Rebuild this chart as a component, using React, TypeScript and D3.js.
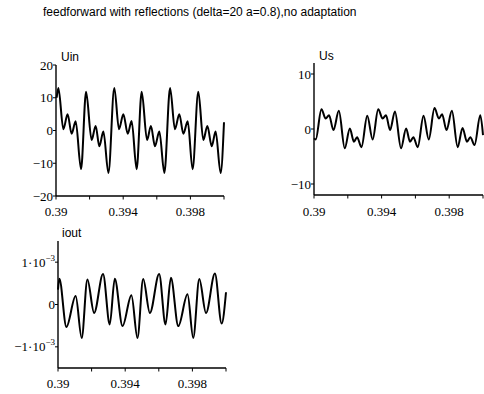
import * as d3 from 'd3';
import React from 'react';

const TITLE = 'feedforward with reflections (delta=20 a=0.8),no adaptation';

// time axis (shared)
const X_DOMAIN = [0.39, 0.4];
const X_LABELS = [0.39, 0.394, 0.398];
const X_TICKS = [0.39, 0.392, 0.394, 0.396, 0.398, 0.4];

// Uin at its turning points
const UIN_T = [0.39004, 0.39014, 0.39044, 0.39069, 0.39093, 0.39117, 0.39149, 0.39179, 0.39212, 0.39236, 0.39258, 0.39282, 0.39312, 0.39347, 0.39375, 0.39401, 0.39427, 0.3945, 0.3948, 0.3951, 0.39542, 0.39565, 0.39589, 0.39615, 0.39645, 0.39679, 0.39708, 0.39734, 0.39758, 0.39784, 0.39813, 0.39847, 0.39877, 0.39901, 0.39927, 0.3995, 0.3998, 0.4];
const UIN_V = [10, 13, 0.4, 5, -1, 2.8, -11.8, 11.8, -2.9, 1.4, -4.8, -0.3, -13, 13, 0.4, 5, -1, 2.9, -11.8, 11.8, -2.9, 1.4, -4.8, -0.3, -13, 13, 0.4, 5, -1, 2.8, -11.8, 11.8, -2.9, 1.4, -4.8, -0.3, -13, 2.5];

// Us
const US_T = [0.39, 0.3901, 0.39044, 0.39069, 0.39089, 0.39115, 0.39147, 0.39182, 0.39212, 0.39236, 0.39255, 0.39281, 0.39315, 0.39347, 0.3938, 0.39406, 0.39426, 0.3945, 0.39479, 0.39515, 0.39545, 0.39568, 0.39588, 0.39614, 0.39648, 0.39679, 0.39713, 0.39739, 0.39758, 0.39784, 0.39816, 0.3985, 0.39879, 0.39905, 0.39925, 0.3995, 0.39984, 0.4];
const US_V = [-1.7, -1.9, 3.6, 1.9, 2.5, -0.2, 3.3, -3.5, 0.1, -2.3, -1.5, -3.3, 2.4, -1.9, 3.6, 1.9, 2.5, -0.2, 3.2, -3.5, 0.1, -2.3, -1.5, -3.3, 2.4, -1.9, 3.8, 1.9, 2.7, -0.2, 3.3, -3.3, 0.2, -2.3, -1.5, -2.9, 2.5, -1.1];

// iout
const IOUT_T = [0.39, 0.39008, 0.3905, 0.39105, 0.39141, 0.39175, 0.39215, 0.39268, 0.39308, 0.39338, 0.39384, 0.39437, 0.39473, 0.39507, 0.39547, 0.39602, 0.3964, 0.39672, 0.39716, 0.39771, 0.39805, 0.39841, 0.39881, 0.39934, 0.39974, 0.4];
const IOUT_V = [0.35e-3, 0.61e-3, -0.53e-3, 0.2e-3, -0.79e-3, 0.59e-3, -0.2e-3, 0.72e-3, -0.47e-3, 0.61e-3, -0.51e-3, 0.22e-3, -0.79e-3, 0.6e-3, -0.2e-3, 0.72e-3, -0.47e-3, 0.63e-3, -0.51e-3, 0.24e-3, -0.79e-3, 0.6e-3, -0.2e-3, 0.73e-3, -0.45e-3, 0.29e-3];

const SERIF = '"Liberation Serif", "DejaVu Serif", serif';
const SANS = '"Liberation Sans", Arial, sans-serif';

type Tick = { value: number; label: React.ReactNode };

function Panel(props: {
  left: number; right: number; top: number; bottom: number;
  yDomain: [number, number]; t: number[]; v: number[]; yTicks: Tick[];
  name: string; nameX: number; nameY: number; labelY: number;
}) {
  const { left, right, top, bottom, yDomain, t, v, yTicks, name, nameX, nameY, labelY } = props;
  const x = d3.scaleLinear().domain(X_DOMAIN).range([left, right]);
  const y = d3.scaleLinear().domain(yDomain).range([bottom, top]);
  const line = d3.line<number>().x((_, i) => x(t[i])).y((d) => y(d)).curve(d3.curveMonotoneX);
  return (
    <g>
      <line x1={left} x2={left} y1={top} y2={bottom} stroke="#000" strokeWidth={1.4} />
      <line x1={left} x2={right} y1={bottom} y2={bottom} stroke="#000" strokeWidth={1.4} />
      {yTicks.map((tk, i) => (
        <g key={i}>
          <line x1={left - 3} x2={left} y1={y(tk.value)} y2={y(tk.value)} stroke="#000" strokeWidth={1} />
          <text x={left - 3} y={y(tk.value) + 4.5} textAnchor="end" fontFamily={SERIF} fontSize={13}>{tk.label}</text>
        </g>
      ))}
      {X_TICKS.map((d) => (
        <line key={d} x1={x(d)} x2={x(d)} y1={bottom} y2={bottom + 3.5} stroke="#000" strokeWidth={1} />
      ))}
      {X_LABELS.map((d) => (
        <text key={d} x={x(d)} y={labelY} textAnchor="middle" fontFamily={SERIF} fontSize={13}>{String(d)}</text>
      ))}
      <path d={line(v) || ''} fill="none" stroke="#000" strokeWidth={2} strokeLinejoin="round" />
      <text x={nameX} y={nameY} fontFamily={SANS} fontSize={12}>{name}</text>
    </g>
  );
}

const sci = (s: string) => (
  <>
    {s}1·10<tspan fontSize={9} dy={-6}>−3</tspan>
  </>
);

export default function App() {
  return (
    <svg width={484} height={394} style={{ position: 'absolute', left: 0, top: 0, background: '#fff' }}>
      <text x={43} y={16} fontFamily={SANS} fontSize={12}>{TITLE}</text>
      <Panel
        left={56} right={224} top={65} bottom={196} yDomain={[-20, 20]}
        t={UIN_T} v={UIN_V}
        yTicks={[20, 10, 0, -10, -20].map((d) => ({ value: d, label: d < 0 ? `−${-d}` : String(d) }))}
        name="Uin" nameX={61} nameY={61} labelY={216}
      />
      <Panel
        left={314} right={483} top={63} bottom={195} yDomain={[-12, 12]}
        t={US_T} v={US_V}
        yTicks={[10, 0, -10].map((d) => ({ value: d, label: d < 0 ? `−${-d}` : String(d) }))}
        name="Us" nameX={319} nameY={60} labelY={216}
      />
      <Panel
        left={58} right={226} top={241} bottom={368} yDomain={[-1.5e-3, 1.5e-3]}
        t={IOUT_T} v={IOUT_V}
        yTicks={[
          { value: 1e-3, label: sci('') },
          { value: 0, label: '0' },
          { value: -1e-3, label: sci('−') },
        ]}
        name="iout" nameX={62} nameY={237} labelY={388}
      />
    </svg>
  );
}
